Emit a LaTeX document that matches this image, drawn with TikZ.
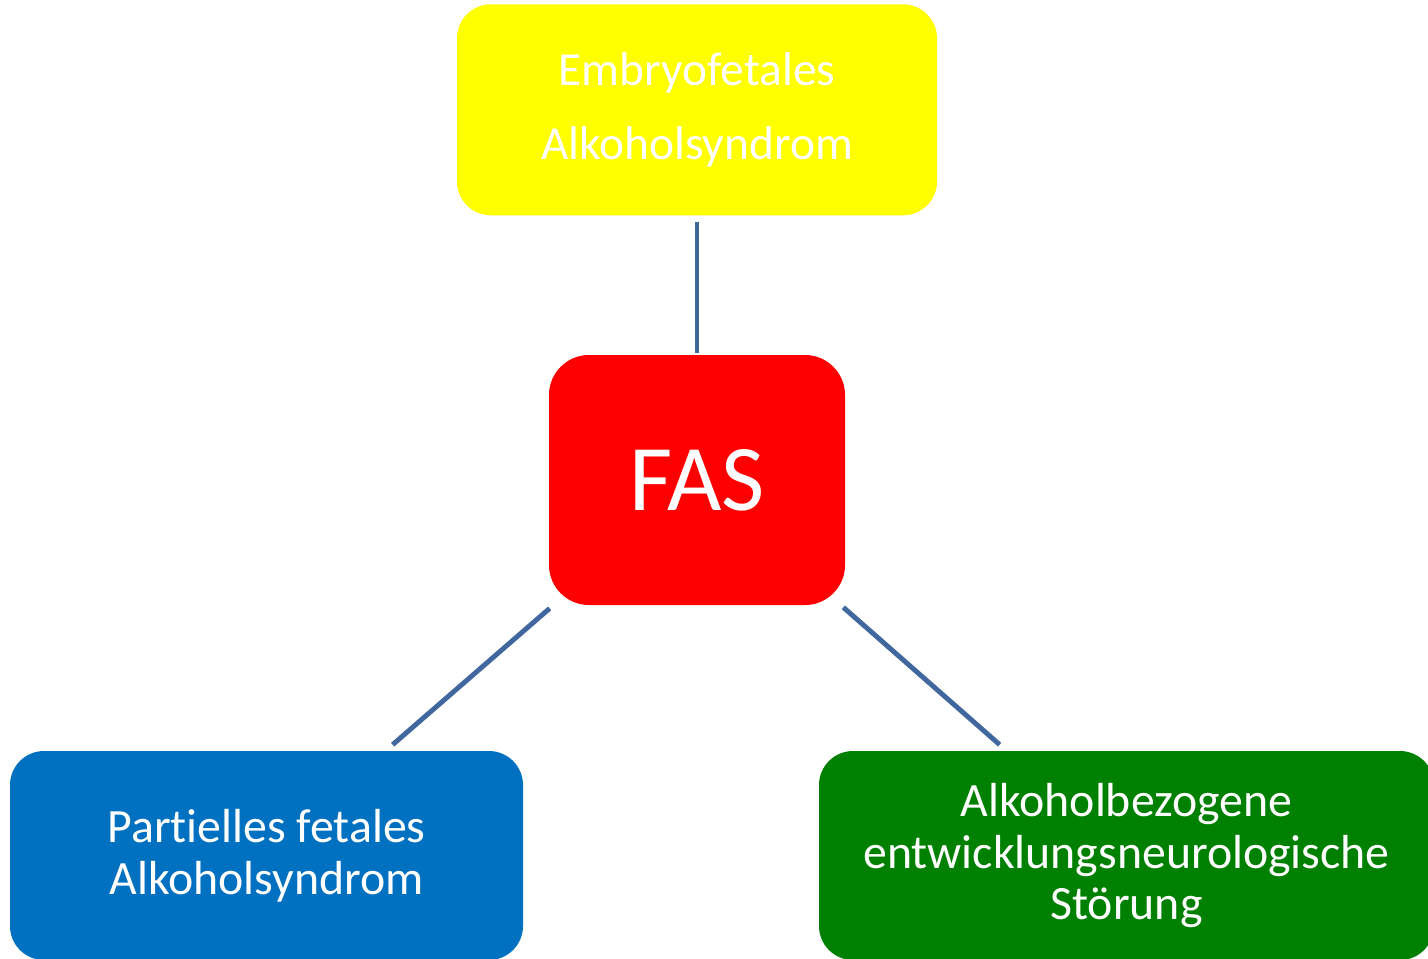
\documentclass[tikz,border=0pt]{standalone}
\usepackage{fontspec}
\setmainfont{Carlito}[Ligatures=NoCommon]
\usepackage{tikz}
\usetikzlibrary{positioning}

\definecolor{fasyellow}{RGB}{255,255,0}
\definecolor{fasred}{RGB}{255,0,0}
\definecolor{fasblue}{RGB}{0,112,192}
\definecolor{fasgreen}{RGB}{0,128,0}
\definecolor{linkblue}{RGB}{65,104,158}

\begin{document}
\begin{tikzpicture}[
    box/.style={rectangle, rounded corners=0.68cm, text=white, align=center, inner sep=0pt},
    small/.style={font=\fontsize{27.2}{29.5}\selectfont},
    link/.style={draw=linkblue, line width=2.8pt}
]
\useasboundingbox (0,0) rectangle (28.56,-19.16);

% centre block
\node[box, fill=fasred, rounded corners=0.8cm, minimum width=5.92cm, minimum height=5cm, font=\fontsize{53.5}{60}\selectfont] (fas) at (13.94,-9.6) {FAS};
\node[box, fill=fasyellow, above=2.78cm of fas, minimum width=9.6cm, minimum height=4.22cm, font=\fontsize{27}{41.8}\selectfont] (efas) {Embryofetales\\Alkoholsyndrom};

% lower blocks, cut at the page edge
\node[box, small, fill=fasblue, minimum width=10.26cm, minimum height=4.18cm] (pfas) at (5.33,-17.11) {Partielles fetales\\Alkoholsyndrom};
\node[box, small, fill=fasgreen, minimum width=12.3cm, minimum height=4.18cm] (arnd) at (22.53,-17.11) {Alkoholbezogene\\entwicklungsneurologische\\Störung};

\draw[link, shorten <=0.12cm, shorten >=0.04cm] (efas) -- (fas);
\draw[link] ([shift={(0.02,-0.06)}]fas.south west) -- ([shift={(7.66,0.12)}]pfas.north west);
\draw[link] ([shift={(-0.04,-0.04)}]fas.south east) -- ([shift={(3.62,0.12)}]arnd.north west);

\end{tikzpicture}
\end{document}
